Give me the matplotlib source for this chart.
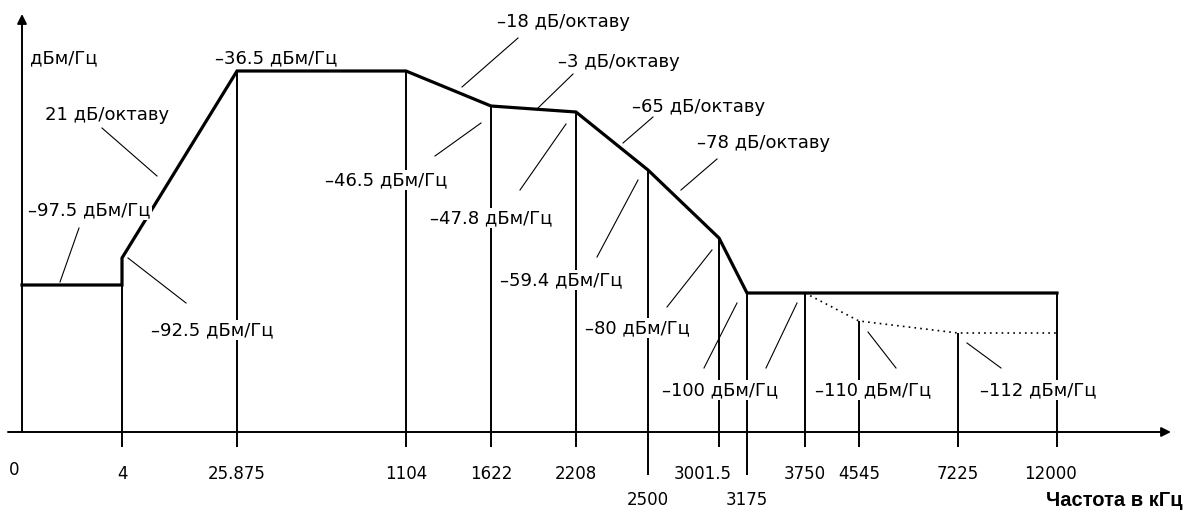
import numpy as np
import matplotlib
matplotlib.use("Agg")
import matplotlib.pyplot as plt

# ---- данные маски: частота (кГц) и уровень (дБм/Гц) ----
mask_f = [0, 4, 4, 25.875, 1104, 1622, 2208, 2500, 3001.5, 3175, 12000]
mask_db = [-97.5, -97.5, -92.5, -36.5, -36.5, -46.5, -47.8, -59.4, -80, -100, -100]
# пунктирная ветвь
alt_f = [3750, 4545, 7225, 12000]
alt_db = [-100, -110, -112, -112]
# отсчеты на оси частот
tick_f = [0, 4, 25.875, 1104, 1622, 2208, 2500, 3001.5, 3175, 3750, 4545, 7225, 12000]
tick_labels = ["0", "4", "25.875", "1104", "1622", "2208", "2500", "3001.5",
               "3175", "3750", "4545", "7225", "12000"]
# до какого уровня поднимается вертикаль от каждого отсчета (кроме 0)
vline_db = [-92.5, -36.5, -36.5, -46.5, -47.8, -59.4, -80, -100, -100, -110, -112, -100]
# наклоны, дБ/октаву
slopes = [21, -18, -3, -65, -78]
# подписанные уровни, дБм/Гц
levels = [-97.5, -92.5, -36.5, -46.5, -47.8, -59.4, -80, -100, -110, -112]

# ---- разметка (пиксели картинки, схема не в масштабе) ----
W, H = 1185, 511
tick_px = [22, 122, 237, 406, 491, 576, 648, 719, 747, 805, 859, 958, 1057]
Y_AX, Y_TOP = 432, 15
y_lo, y_hi = -150, -20
level_px = {-112: 333, -110: 321, -100: 293, -97.5: 285, -92.5: 258, -80: 238,
            -59.4: 170, -47.8: 112, -46.5: 106, -36.5: 71}
db_anchor = [y_lo] + sorted(level_px) + [y_hi]
px_anchor = [Y_AX] + [level_px[v] for v in sorted(level_px)] + [Y_TOP]


def fwd_x(f):
    return np.interp(f, tick_f, tick_px)


def inv_x(p):
    return np.interp(p, tick_px, tick_f)


def fwd_y(v):
    return -np.interp(v, db_anchor, px_anchor)


def inv_y(q):
    return np.interp(-np.asarray(q), px_anchor[::-1], db_anchor[::-1])


def txt(v):
    return ("%g" % v).replace("-", "–")


fig = plt.figure(figsize=(W / 100, H / 100), dpi=100)
h_px = Y_AX - Y_TOP
ax = fig.add_axes([tick_px[0] / W, (H - Y_AX) / H,
                   (tick_px[-1] - tick_px[0]) / W, h_px / H])
ax.set_xscale("function", functions=(fwd_x, inv_x))
ax.set_yscale("function", functions=(fwd_y, inv_y))
ax.set_xlim(0, 12000)
ax.set_ylim(y_lo, y_hi)
ax.axis("off")

# маска
ax.plot(mask_f, mask_db, color="black", lw=2.3, solid_joinstyle="miter", clip_on=False)
ax.plot(alt_f, alt_db, color="black", lw=1.2, ls=(0, (1, 2.5)), clip_on=False)

# вертикали и засечки под осью
long_ticks = ["2500", "3175"]
ax.vlines(tick_f[1:], y_lo, vline_db, color="black", lw=1.4, clip_on=False)
for f, lab in zip(tick_f[1:], tick_labels[1:]):
    ext = 43 if lab in long_ticks else 15
    ax.vlines(f, -ext / h_px, 0, transform=ax.get_xaxis_transform(),
              color="black", lw=1.4, clip_on=False)

# наложение для подписей в пикселях
ov = fig.add_axes([0, 0, 1, 1])
ov.set_xlim(0, W)
ov.set_ylim(H, 0)
ov.axis("off")

arr = dict(arrowstyle="-|>", lw=1.4, color="black", mutation_scale=14,
           shrinkA=0, shrinkB=0)
ov.annotate("", xy=(22, 14), xytext=(22, Y_AX), arrowprops=arr)
ov.annotate("", xy=(1171, Y_AX), xytext=(8, Y_AX), arrowprops=arr)

fs = 13
# подписи оси частот
tick_dx = {"3001.5": -16, "12000": -6}
for px, lab in zip(tick_px, tick_labels):
    if lab == "0":
        ov.text(14, 470, lab, ha="center", va="center", fontsize=12)
        continue
    y = 500 if lab in long_ticks else 474
    ov.text(px + tick_dx.get(lab, 0), y, lab, ha="center", va="center", fontsize=12)

ov.text(1183, 500, "Частота в кГц", ha="right", va="center", fontsize=14.5,
        fontweight="bold", family="Liberation Sans")
ov.text(30, 58, "дБм/Гц", ha="left", va="center", fontsize=fs)

# наклоны
slope_pos = [(45, 115), (497, 22), (558, 62), (632, 107), (697, 143)]
slope_lead = [((102, 128), (157, 176)), ((518, 38), (462, 87)), ((573, 74), (538, 108)),
              ((653, 117), (623, 143)), ((717, 159), (681, 190))]
for s, (x, y), (p1, p2) in zip(slopes, slope_pos, slope_lead):
    ov.text(x, y, txt(s) + " дБ/октаву", ha="left", va="center", fontsize=fs)
    ov.plot([p1[0], p2[0]], [p1[1], p2[1]], color="black", lw=0.8)

# уровни
lvl_pos = [(28, 210), (151, 330), (215, 58), (325, 180), (430, 218),
           (500, 280), (585, 328), (662, 390), (815, 390), (980, 390)]
lvl_lead = [[((79, 228), (60, 282))],
            [((128, 258), (186, 303))],
            [],
            [((481, 123), (435, 156))],
            [((566, 124), (520, 190))],
            [((638, 180), (597, 257))],
            [((712, 250), (667, 307))],
            [((704, 368), (737, 303)), ((766, 368), (797, 303))],
            [((868, 332), (896, 368))],
            [((967, 343), (1001, 368))]]
for v, (x, y), leads in zip(levels, lvl_pos, lvl_lead):
    ov.text(x, y, txt(v) + " дБм/Гц", ha="left", va="center", fontsize=fs,
            bbox=dict(fc="white", ec="none", pad=1.0))
    for p1, p2 in leads:
        ov.plot([p1[0], p2[0]], [p1[1], p2[1]], color="black", lw=0.8)

fig.savefig("out.png", dpi=100, facecolor="white")
